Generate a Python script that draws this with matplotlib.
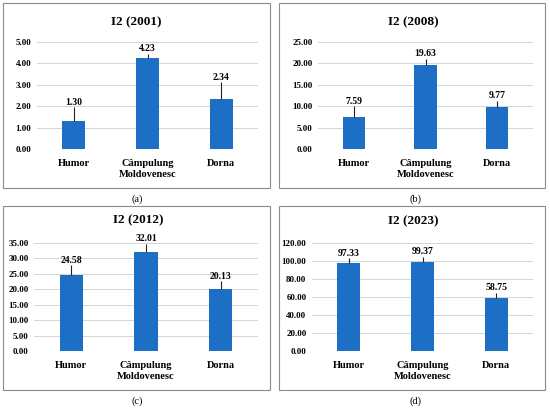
import numpy as np
import matplotlib.pyplot as plt
from matplotlib.patches import Rectangle

# --- data ---
categories = ['Humor', 'Câmpulung\nMoldovenesc', 'Dorna']

titles = ['I2 (2001)', 'I2 (2008)', 'I2 (2012)', 'I2 (2023)']
panel_tags = ['(a)', '(b)', '(c)', '(d)']

vals_2001 = [1.30, 4.23, 2.34]
vals_2008 = [7.59, 19.63, 9.77]
vals_2012 = [24.58, 32.01, 20.13]
vals_2023 = [97.33, 99.37, 58.75]

# upper error bars (estimated)
err_2001 = [0.65, 0.22, 0.78]
err_2008 = [2.4, 1.4, 1.4]
err_2012 = [3.2, 2.8, 2.4]
err_2023 = [5.5, 5.5, 6.0]

ymax = [5, 25, 35, 120]
ystep = [1, 5, 5, 20]

BLUE = '#1c6fc4'
FONT = 'Liberation Serif'
W, H = 550, 409

# axes boxes in pixels: (left, top, right, bottom)
axes_px = [(37, 42, 258, 149), (318, 42, 533, 149),
           (34, 243, 258, 351), (312, 243, 533, 351)]
frames_px = [(3, 3, 270, 188), (279, 3, 545, 188),
             (3, 206, 270, 390), (279, 206, 545, 390)]
title_px = [(136, 22), (413, 22), (138, 220), (413, 221)]
tag_px = [(137, 199), (415, 199), (137, 401), (415, 401)]

fig = plt.figure(figsize=(W / 100, H / 100), dpi=100)

all_vals = [vals_2001, vals_2008, vals_2012, vals_2023]
all_errs = [err_2001, err_2008, err_2012, err_2023]

for i in range(4):
    l, t, r, b = axes_px[i]
    ax = fig.add_axes([l / W, 1 - b / H, (r - l) / W, (b - t) / H])
    x = np.arange(len(categories))
    vals = all_vals[i]
    errs = all_errs[i]
    ax.bar(x, vals, width=0.31, color=BLUE, zorder=3)
    ax.errorbar(x, vals, yerr=[np.zeros(3), errs], fmt='none',
                ecolor='#222222', elinewidth=0.8, capsize=0, zorder=4)
    for xi, v, e in zip(x, vals, errs):
        ax.annotate(f'{v:.2f}', (xi, v + e), xytext=(0, 0.5),
                    textcoords='offset points', ha='center', va='bottom',
                    fontsize=7, fontweight='bold', family=FONT)
    ax.set_xlim(-0.5, 2.5)
    ax.set_ylim(0, ymax[i])
    ax.set_yticks(np.arange(0, ymax[i] + 0.001, ystep[i]))
    ax.set_yticklabels([f'{v:.2f}' for v in ax.get_yticks()],
                       fontsize=6.5, fontweight='bold', family=FONT)
    ax.set_xticks(x)
    ax.set_xticklabels(categories, fontsize=7.5, fontweight='bold',
                       family=FONT, linespacing=1.3)
    ax.tick_params(length=0, pad=4)
    ax.tick_params(axis='x', pad=7)
    ax.grid(axis='y', color='#d4d4d4', linewidth=0.7, zorder=0)
    for s in ax.spines.values():
        s.set_visible(False)

    fl, ft, fr, fb = frames_px[i]
    fig.patches.append(Rectangle((fl / W, 1 - fb / H), (fr - fl) / W, (fb - ft) / H,
                                 transform=fig.transFigure, fill=False,
                                 edgecolor='#8c8c8c', linewidth=0.8))
    tx, ty = title_px[i]
    fig.text(tx / W, 1 - ty / H, titles[i], ha='center', va='center',
             fontsize=9.5, fontweight='bold', family=FONT)
    gx, gy = tag_px[i]
    fig.text(gx / W, 1 - gy / H, panel_tags[i], ha='center', va='center',
             fontsize=7.5, family=FONT)

fig.savefig('out.png', dpi=100)
